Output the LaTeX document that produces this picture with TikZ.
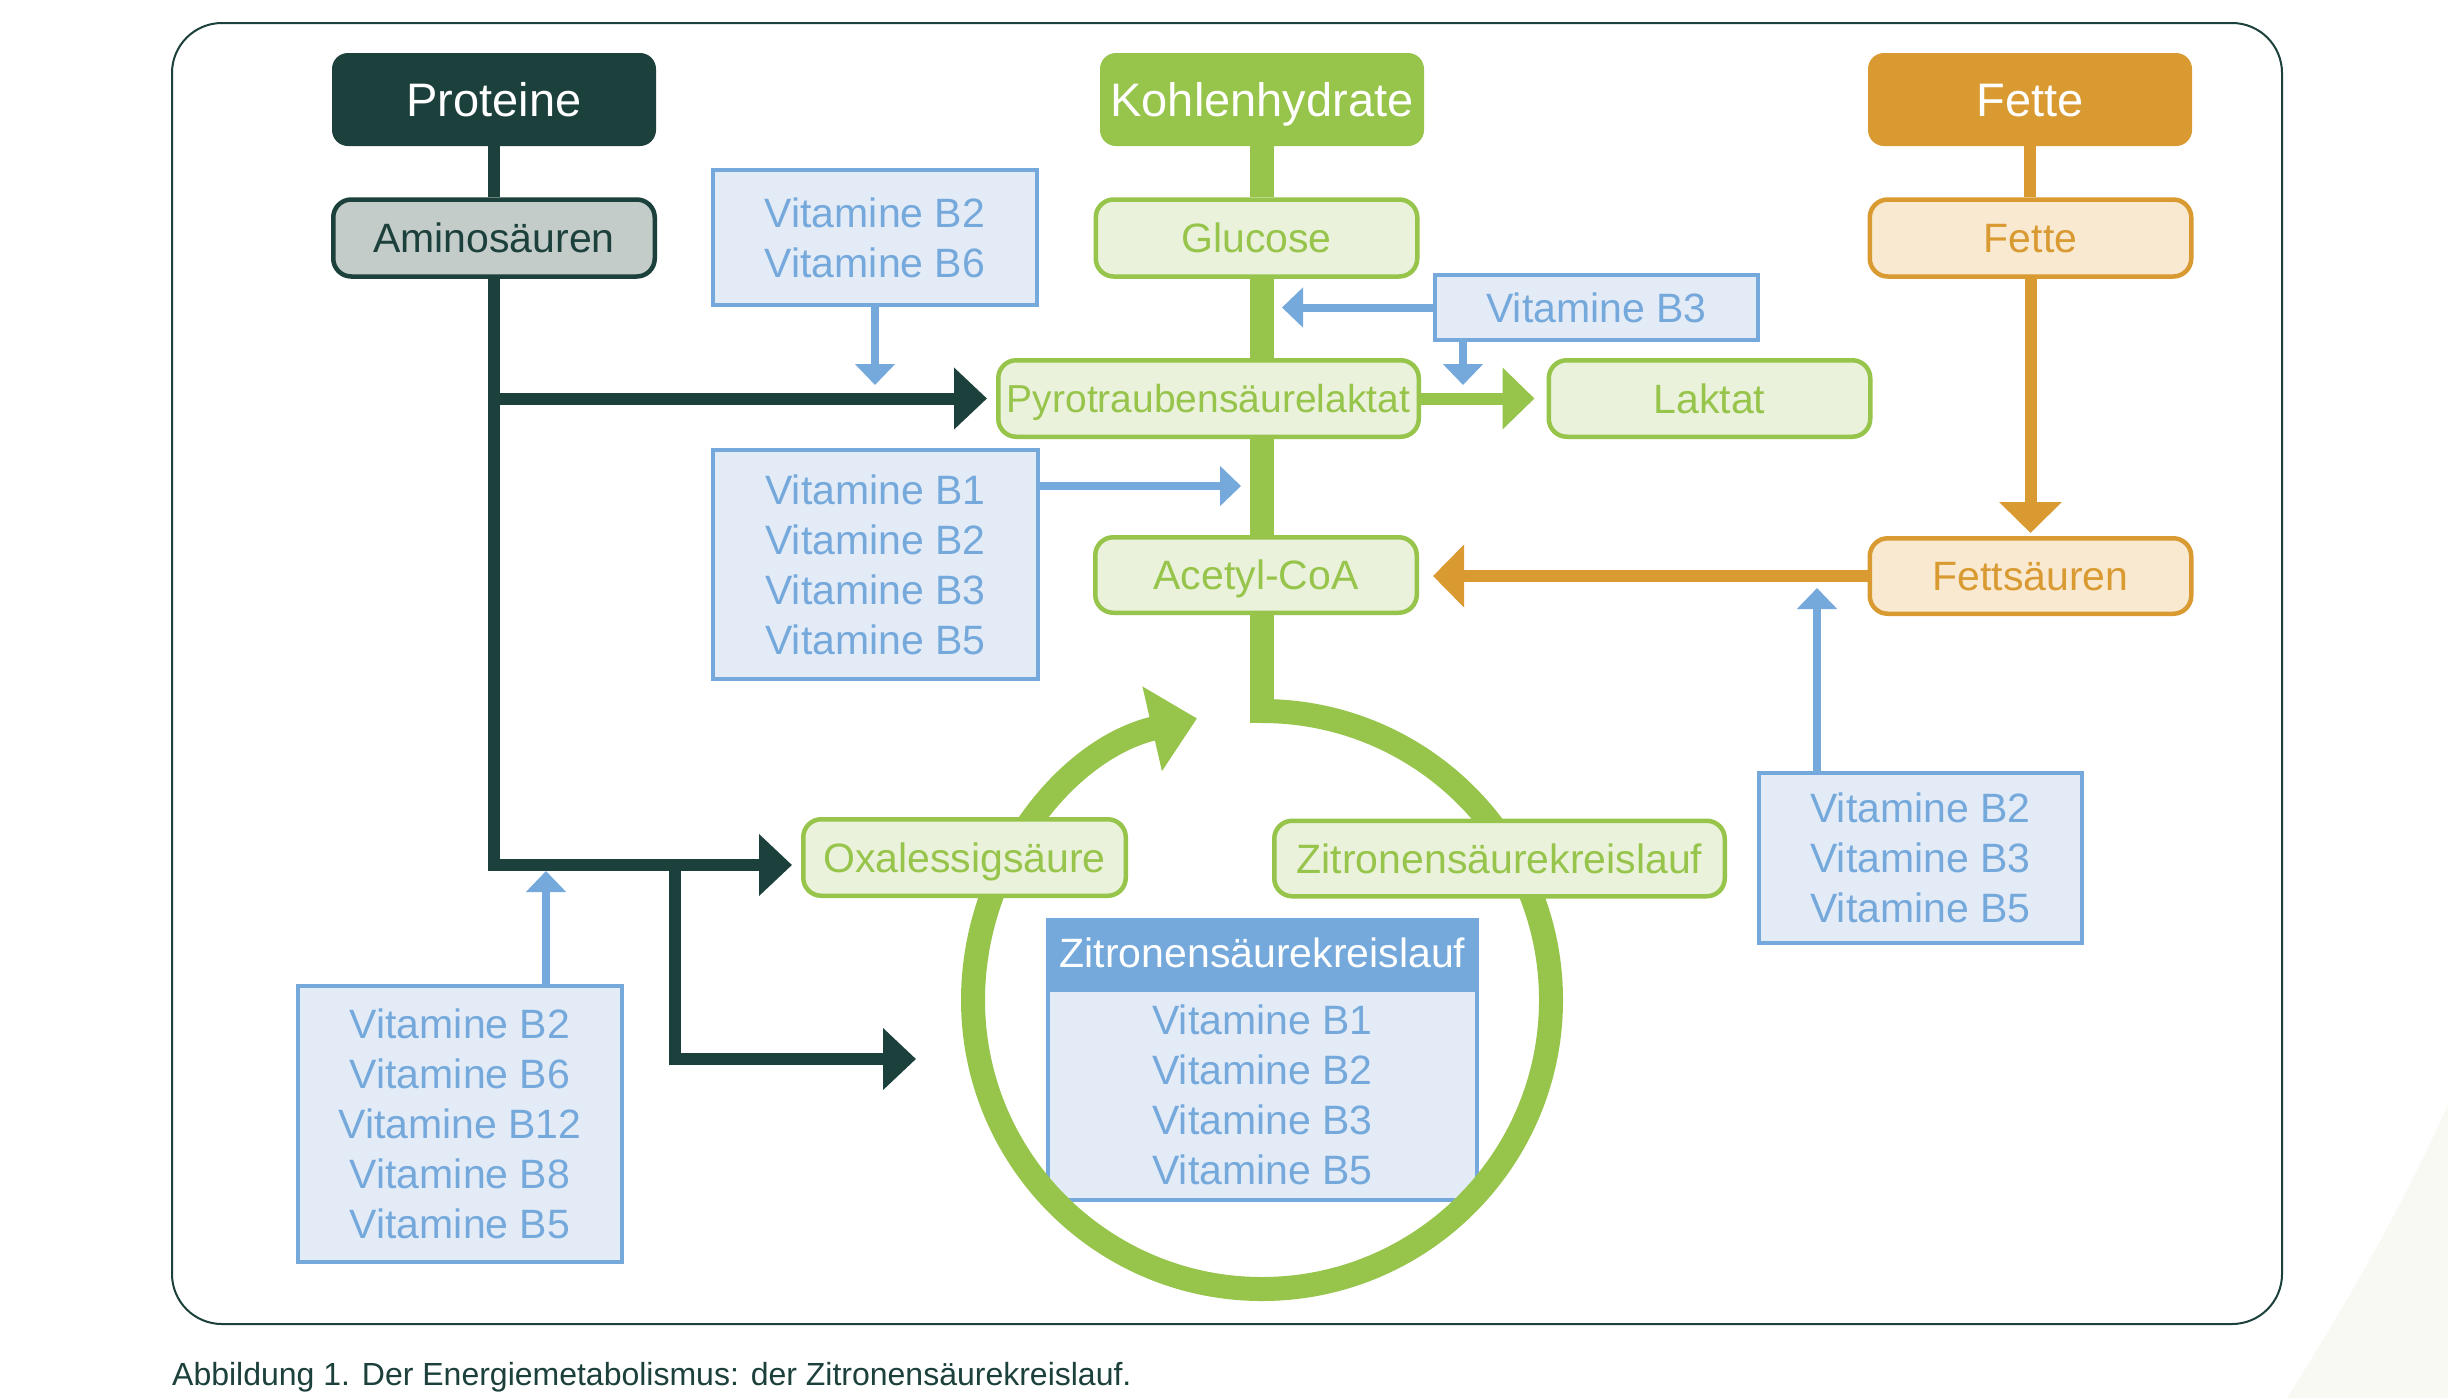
\documentclass[tikz,border=0pt]{standalone}
\usepackage{fontspec}
\setmainfont{Liberation Sans}
\usetikzlibrary{arrows.meta}
\definecolor{dk}{RGB}{28,64,59}
\definecolor{gr}{RGB}{151,196,74}
\definecolor{grl}{RGB}{234,242,220}
\definecolor{orc}{RGB}{217,154,50}
\definecolor{orl}{RGB}{248,233,208}
\definecolor{amf}{RGB}{195,204,200}
\definecolor{bl}{RGB}{118,169,219}
\definecolor{bll}{RGB}{227,235,247}
\definecolor{deco}{RGB}{247,249,242}
\begin{document}
\begin{tikzpicture}[x=1pt,y=-1pt,
  hdr/.style={rounded corners=16pt, minimum width=324pt, minimum height=93pt, inner sep=0pt, text=white, font=\fontsize{47}{56}\selectfont, text height=34pt, text depth=0pt},
  lvl/.style={draw, line width=4.5pt, rounded corners=18pt, minimum width=321.5pt, minimum height=77pt, inner sep=0pt, font=\fontsize{41}{50}\selectfont, text height=29.5pt, text depth=0pt},
  grbox/.style={lvl, draw=gr, fill=grl, text=gr},
  orbox/.style={lvl, draw=orc, fill=orl, text=orc},
  vit/.style={draw=bl, fill=bll, text=bl, line width=4pt, inner sep=0pt, align=center, font=\fontsize{41}{50}\selectfont},
  dkline/.style={draw=dk, line width=12pt},
  dkarrow/.style={dkline, -{Triangle[width=60pt,length=33pt]}},
  grline/.style={draw=gr, line width=24pt},
  grarrow/.style={draw=gr, line width=12pt, -{Triangle[width=60pt,length=32pt]}},
  orline/.style={draw=orc, line width=12pt},
  orarrow/.style={orline, -{Triangle[width=61pt,length=31pt]}},
  blarrow/.style={draw=bl, line width=8pt, -{Triangle[width=39pt,length=21pt]}}
]
\useasboundingbox (0,0) rectangle (2448,1398);
\fill[white] (0,0) rectangle (2448,1398);
\fill[deco] (2448,1105) .. controls (2392,1228) and (2335,1322) .. (2287,1398) -- (2448,1398) -- cycle;
\draw[dk, line width=2pt, rounded corners=50pt] (172,23) rectangle (2282,1324);
\node[anchor=base west, text=dk, inner sep=0pt, font=\fontsize{32}{38}\selectfont] (cap) at (172,1385) {Abbildung 1. Der Energiemetabolismus: der Zitronensäurekreislauf.};

% citric acid cycle table
\node[fill=bl, minimum width=433pt, minimum height=70pt, inner sep=0pt, text=white, font=\fontsize{41}{50}\selectfont, text height=29.5pt, text depth=0pt] (thead) at (1262.5,953) {Zitronensäurekreislauf};
\node[vit, minimum width=429pt, minimum height=210pt] (tbody) at (1262.5,1095) {Vitamine B1\\Vitamine B2\\Vitamine B3\\Vitamine B5};

% ring
\draw[gr, line width=24pt, -{Triangle[width=84pt,length=46pt]}] (1262,711) arc[start angle=-90, end angle=257, radius=289];

% header nodes
\node[hdr, fill=dk] (prot) at (494,99.5) {Proteine};
\node[hdr, fill=gr] (kohl) at (1262,99.5) {Kohlenhydrate};
\node[hdr, fill=orc] (fet1) at (2030,99.5) {Fette};

% level nodes
\node[lvl, draw=dk, fill=amf, text=dk] (ami) at (494,238) {Aminosäuren};
\node[grbox] (gluc) at (1256.5,238) {Glucose};
\node[orbox] (fet2) at (2030.5,238) {Fette};
\node[grbox, minimum width=420.5pt, minimum height=76.5pt, font=\fontsize{39}{48}\selectfont, text height=28pt] (pyro) at (1208.5,398.5) {Pyrotraubensäurelaktat};
\node[grbox, minimum height=76.5pt] (lakt) at (1709.5,398.5) {Laktat};
\node[grbox, minimum height=75.5pt] (acet) at (1256,575) {Acetyl-CoA};
\node[orbox, minimum height=75.5pt] (fsa) at (2030.5,576) {Fettsäuren};
\node[grbox, minimum width=322.5pt, minimum height=76.5pt] (oxal) at (964.5,857.5) {Oxalessigsäure};
\node[grbox, minimum width=450.5pt, minimum height=75.5pt] (zitr) at (1499.5,858.5) {Zitronensäurekreislauf};

% vitamin boxes
\node[vit, minimum width=324pt, minimum height=135pt] (v26) at (875,237.5) {Vitamine B2\\Vitamine B6};
\node[vit, minimum width=325pt, minimum height=229pt] (v1235) at (875.5,564.5) {Vitamine B1\\Vitamine B2\\Vitamine B3\\Vitamine B5};
\node[vit, minimum width=323pt, minimum height=65pt] (vb3) at (1596.5,307.5) {Vitamine B3};
\node[vit, minimum width=324pt, minimum height=276pt] (v5) at (460,1124) {Vitamine B2\\Vitamine B6\\Vitamine B12\\Vitamine B8\\Vitamine B5};
\node[vit, minimum width=323pt, minimum height=170pt] (v235) at (1920.5,858) {Vitamine B2\\Vitamine B3\\Vitamine B5};

% dark connectors
\coordinate (j1) at (494,865);
\coordinate (j2) at (675,865);
\coordinate (t7) at (916,1059);
\draw[dkline] (prot) -- (ami);
\draw[dkarrow, shorten >=9pt] (ami.south) -- (j1) -- (j1 -| oxal.west);
\draw[dkarrow, shorten >=9pt] (ami.south |- pyro.west) -- (pyro.west);
\draw[dkarrow] (j2) -- (j2 |- t7) -- (t7);

% green connectors
\coordinate (ringtop) at (1262,723);
\draw[grline] (kohl.south) -- (kohl.south |- gluc.north);
\draw[grline] (kohl.south |- gluc.south) -- (kohl.south |- pyro.north);
\draw[grline] (kohl.south |- pyro.south) -- (kohl.south |- acet.north);
\draw[grline] (kohl.south |- acet.south) -- (ringtop);
\draw[grarrow, shorten >=12pt] (pyro.east) -- (lakt.west);

% orange connectors
\draw[orline] (fet1.south) -- (fet1.south |- fet2.north);
\draw[orarrow, shorten >=3pt] (fet2.south) -- (fet2.south |- fsa.north);
\draw[orarrow, shorten >=14pt] (fsa.west) -- (fsa.west -| acet.east);

% blue connectors
\coordinate (t1) at (875,385);
\coordinate (t2) at (1241,486);
\coordinate (t3) at (1282,307.5);
\coordinate (t4) at (1463,385);
\coordinate (t5) at (546,871);
\coordinate (t6) at (1817,588);
\draw[blarrow] (v26.south) -- (t1);
\draw[blarrow] (v1235.east |- t2) -- (t2);
\draw[blarrow] (vb3.west) -- (t3);
\draw[blarrow] (t4 |- vb3.south) -- (t4);
\draw[blarrow] (t5 |- v5.north) -- (t5);
\draw[blarrow] (t6 |- v235.north) -- (t6);
\end{tikzpicture}
\end{document}
